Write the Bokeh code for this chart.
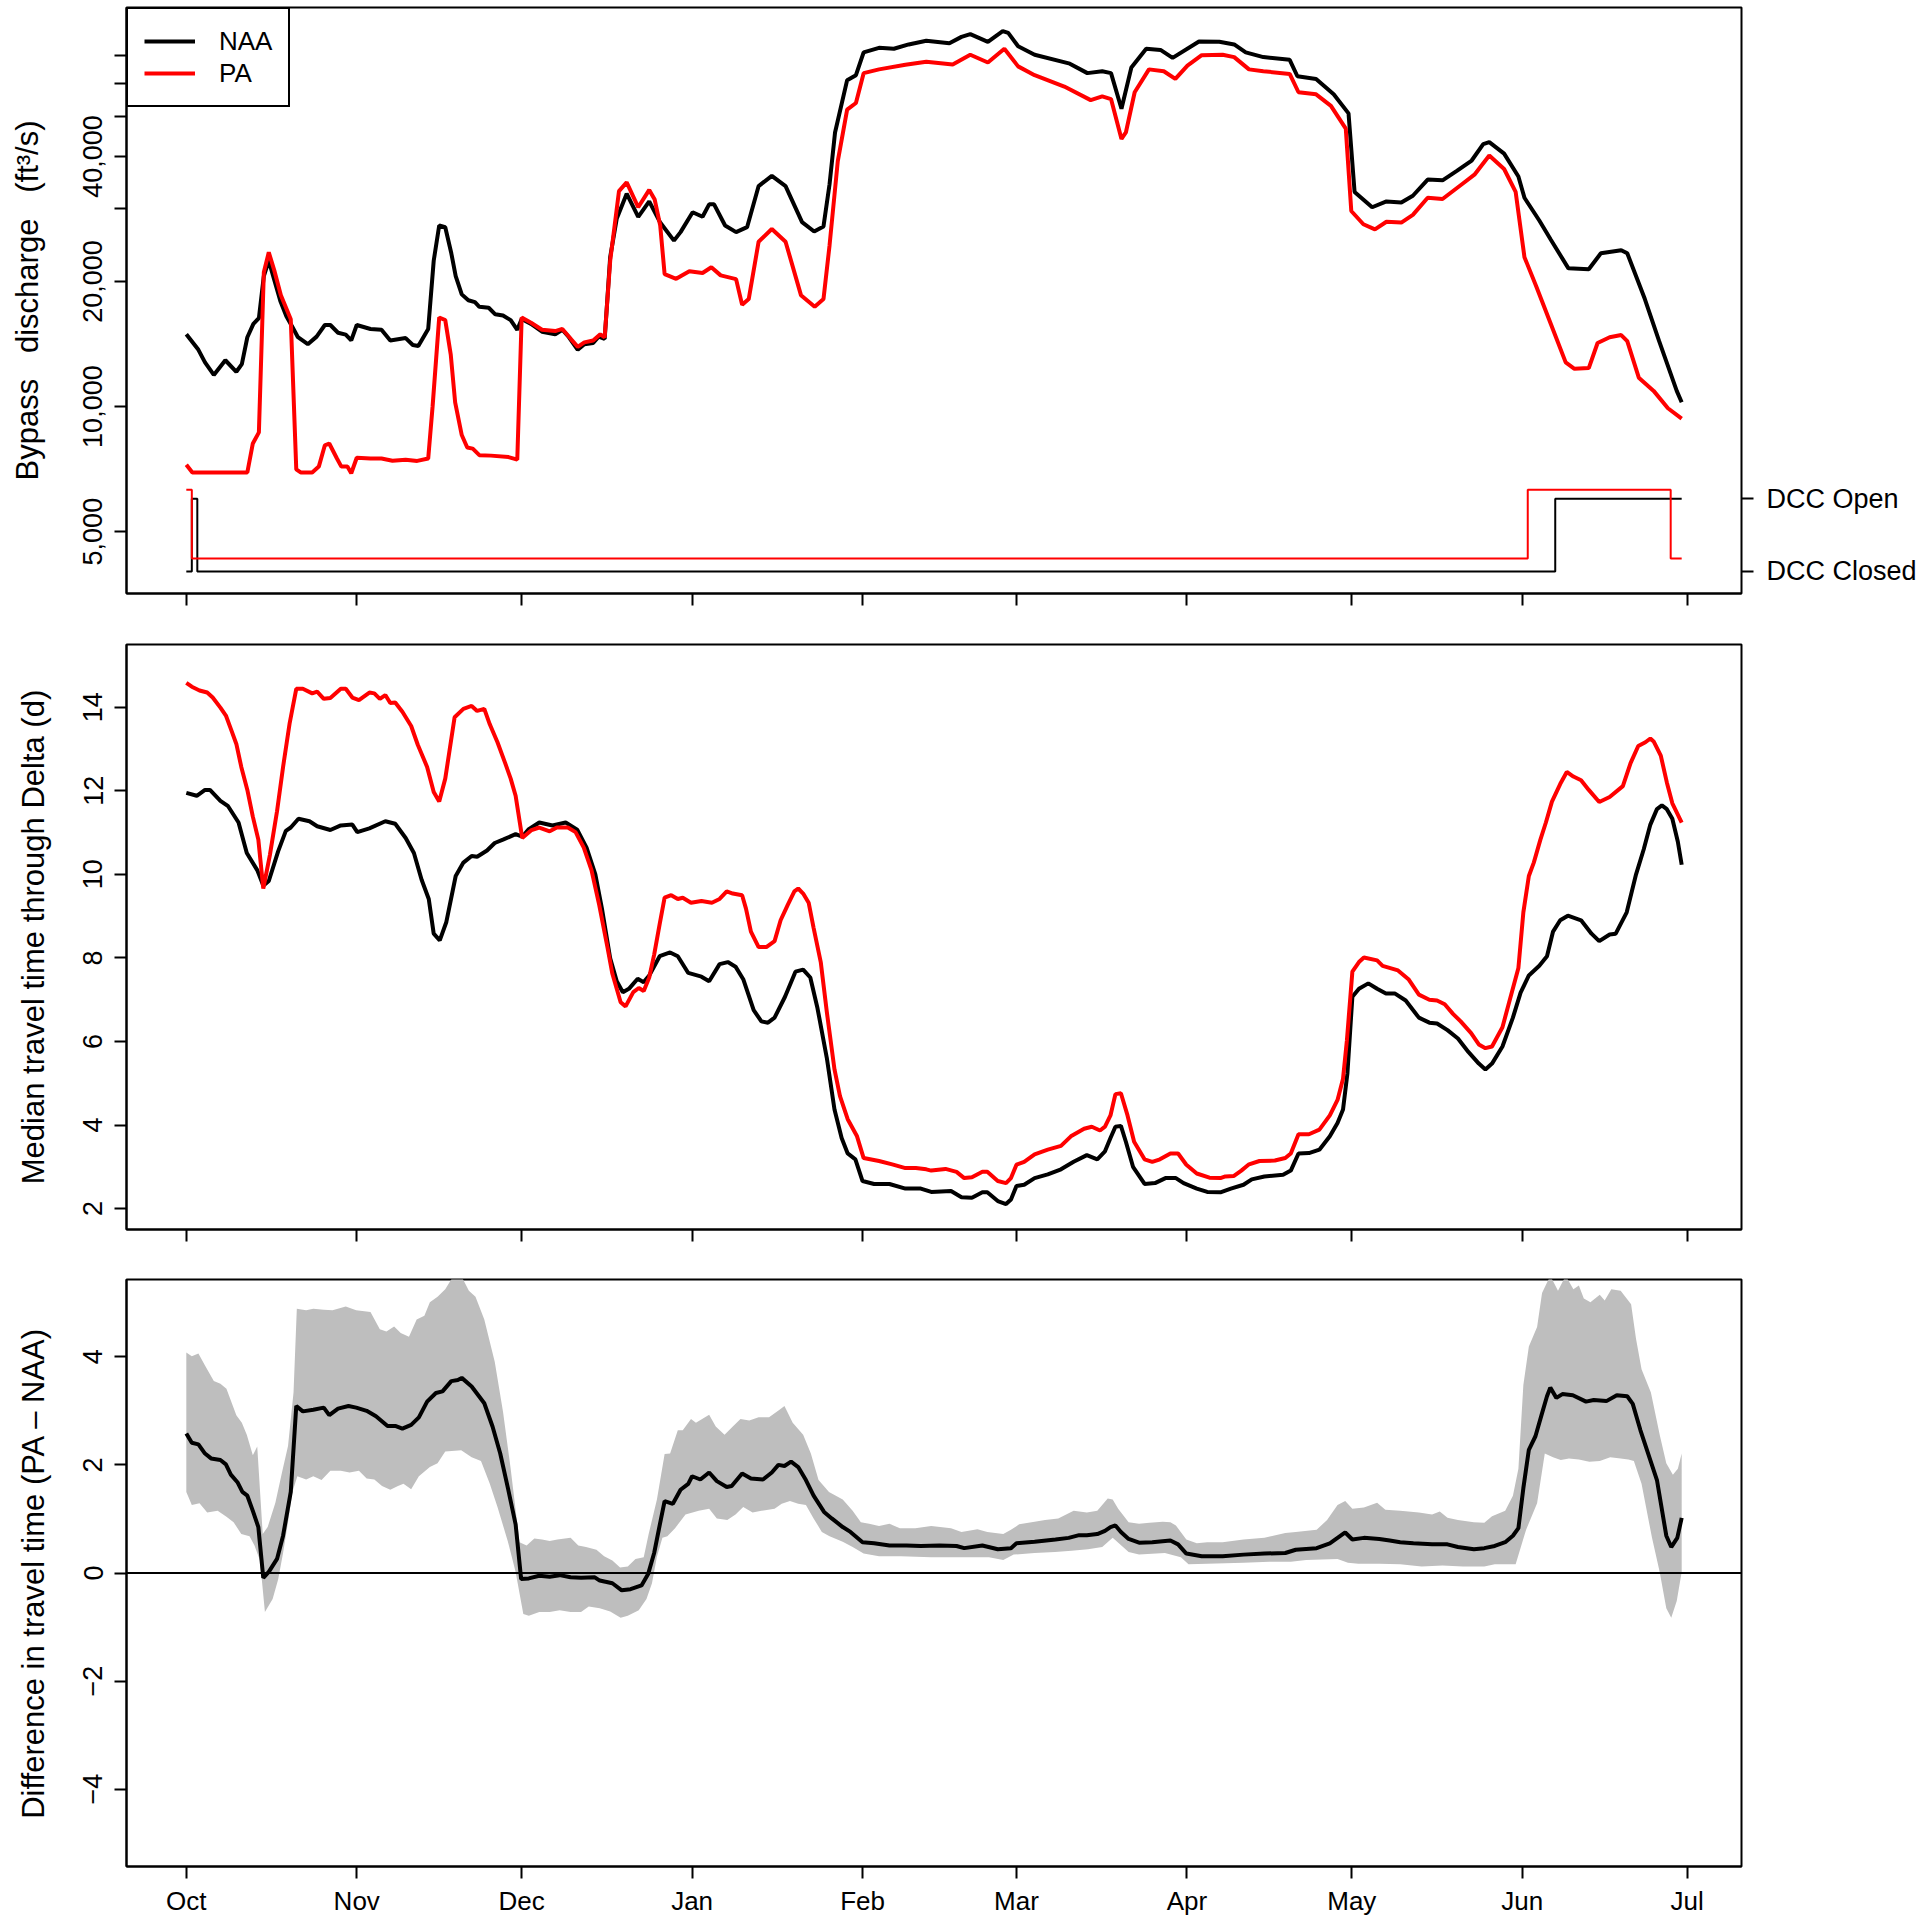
from bokeh.plotting import figure
from bokeh.layouts import column
from bokeh.models import Range1d, FixedTicker, LogAxis, Legend, LegendItem, Span
from bokeh.embed import file_html
from bokeh.resources import INLINE

# ---------------- data ----------------
month_days = [0, 31, 61, 92, 123, 151, 182, 212, 243, 273]
month_labels = ["Oct", "Nov", "Dec", "Jan", "Feb", "Mar", "Apr", "May", "Jun", "Jul"]

# Bypass discharge (ft3/s), (day since Oct 1, value)
naa_flow = [(0,14930),(2.2,13700),(3.4,12780),(5.0,11920),(7.1,12930),(9.1,12130),(10.1,12650),(11.1,14690),
 (12.2,15820),(13.2,16330),(14.1,20620),(15.0,22450),(16.0,20180),(17.1,17960),(18.2,16500),(19.2,15640),
 (20.3,14690),(22.1,14130),(23.7,14740),(25.2,15720),(26.2,15720),(27.6,15060),(29.0,14900),(30.0,14430),
 (31.0,15720),(33.5,15380),(35.5,15310),(37.1,14430),(39.9,14620),(41.2,14070),(42.2,14000),(44.0,15380),
 (45.0,22450),(46.0,27290),(47.1,27040),(48.2,23400),(49.0,20620),(50.1,18630),(51.3,18030),(52.5,17840),
 (53.3,17390),(55.0,17300),(56.2,16680),(57.6,16570),(59.0,16150),(60.2,15310),(61.0,16250),(62.7,15820),
 (64.7,15150),(67.1,14930),(68.4,15310),(69.6,14690),(71.2,13700),(72.4,14130),(74.0,14230),(75.0,14740),
 (76.1,14560),(77.1,22920),(78.3,28370),(80.1,32550),(82.2,28640),(84.2,31190),(86.2,27740),(88.7,25100),
 (89.9,26310),(92.1,29380),(93.9,28640),(95.1,30690),(96.0,30690),(98.0,27290),(100.0,26310),(102.0,27040),
 (104.1,33960),(106.5,35950),(109.0,33960),(112.0,27800),(114.2,26400),(115.9,27160),(117.0,34300),(118.0,45710),
 (120.2,61090),(121.8,62810),(123.2,71290),(126.0,73090),(128.7,72700),(131.4,74470),(134.6,76030),(138.8,75000),
 (141.0,77660),(142.6,78840),(145.8,75560),(148.5,80180),(149.5,79380),(151.3,73710),(154.3,70350),(160.7,66950),
 (163.9,63520),(166.6,64200),(168.2,63520),(170.1,52130),(171.9,65520),(174.6,72700),(177.2,72250),(179.4,69140),
 (184.2,75710),(187.9,75560),(190.6,74470),(192.7,71290),(195.9,69430),(200.7,68390),(202.1,62430),(205.5,61520),
 (208.7,56480),(211.4,50820),(212.5,32880),(215.7,30200),(218.3,31190),(221.0,31000),(223.1,32190),(225.8,35200),
 (228.5,35060),(231.1,36950),(233.8,39130),(235.9,42870),(237.0,43340),(239.7,40650),(242.3,35820),(243.4,31830),
 (246.1,28060),(248.2,25220),(251.4,21520),(255.1,21420),(257.3,23400),(261.0,23800),(262.1,23400),(265.3,18150),
 (267.9,14370),(271.1,10910),(272,10240)]

pa_flow = [(0,7240),(1.1,6940),(11.1,6940),(12.1,8150),(13.2,8670),(14.1,21060),(15.0,23520),(16.0,21280),
 (17.2,18550),(19.0,16220),(20.0,7060),(20.8,6940),(22.9,6940),(24.1,7170),(25.2,8070),(26.0,8150),(27.4,7500),
 (28.2,7170),(29.3,7170),(30.0,6910),(31.0,7530),(33.5,7500),(35.5,7500),(37.5,7410),(39.9,7450),(42.0,7400),
 (44.0,7500),(44.8,10020),(46.0,16390),(47.1,16150),(48.1,13340),(48.9,10240),(50.1,8540),(51.1,7970),(52.1,7920),
 (53.3,7640),(55.4,7620),(58.6,7560),(60.2,7450),(61.0,16390),(62.7,15920),(64.7,15310),(67.1,15200),(68.4,15380),
 (70.0,14520),(71.2,13930),(72.4,14280),(74.0,14430),(75.3,14930),(76.1,14690),(77.1,22450),(78.7,33020),
 (80.1,34670),(82.2,30200),(84.2,33240),(85.2,31510),(86.2,27290),(87.0,20840),(89.1,20310),(91.5,21190),
 (93.9,20970),(95.5,21650),(97.2,20700),(100.0,20270),(101.1,17580),(102.3,18150),(104.1,24950),(106.5,26770),
 (109.0,24950),(111.8,18550),(114.3,17390),(115.9,18150),(117.0,24440),(118.5,39000),(120.2,51880),(121.8,53830),
 (123.2,63520),(126.0,64860),(130.8,66510),(134.6,67670),(139.4,66640),(142.6,70350),(145.8,67370),(148.8,72700),
 (151.3,65950),(154.3,62810),(159.7,58960),(164.5,54700),(166.6,55870),(168.2,55000),(170.1,44090),(170.9,45710),
 (172.5,57130),(175.1,64860),(177.8,64200),(179.9,61520),(182.1,66240),(184.7,70150),(188.5,70350),(190.6,69430),
 (193.3,64860),(195.9,64200),(200.7,63250),(202.3,57130),(205.5,56480),(208.2,52990),(210.9,46690),(211.9,29580),
 (214.1,27480),(216.2,26710),(218.3,27860),(221.0,27740),(223.1,28950),(225.8,31830),(228.5,31610),(232.2,34450),
 (234.3,36170),(237.0,40230),(239.7,37330),(241.8,32880),(243.4,22900),(245.5,19550),(248.2,15810),(250.9,12780),
 (252.5,12330),(255.1,12380),(256.7,14230),(258.9,14690),(261.0,14870),(262.1,14370),(264.2,11740),(266.9,10910),
 (269.5,9910),(272,9360)]

# Delta Cross Channel status: (day the status starts, 1 = open / 0 = closed)
dcc_naa = [(0,0),(1,1),(2,0),(249,1),(272,1)]
dcc_pa = [(0,1),(1,0),(244,1),(270,0),(272,0)]
dcc_naa_levels = {0: 4010, 1: 6000}
dcc_pa_levels = {0: 4310, 1: 6310}
dcc_tick_labels = {4010: "DCC Closed", 6000: "DCC Open"}

# Median travel time through Delta (d)
naa_tt = [(0,11.95),(1.9,11.88),(3.4,12.02),(4.3,12.02),(6.2,11.76),(7.6,11.63),(9.5,11.24),(11.0,10.51),(12.9,10.10),
 (14.0,9.73),(15.0,9.84),(16.7,10.55),(18.1,11.04),(19.0,11.12),(20.4,11.33),(22.4,11.27),(23.8,11.15),(26.2,11.06),
 (28.1,11.17),(30.2,11.19),(31.1,11.01),(33.3,11.10),(36.2,11.27),(38.0,11.21),(39.9,10.87),(41.4,10.51),(42.8,9.87),
 (44.1,9.41),(45.0,8.58),(46.1,8.42),(47.3,8.86),(49.0,9.96),(50.4,10.28),(51.9,10.44),(52.9,10.42),(54.7,10.57),
 (56.1,10.75),(57.6,10.83),(59.9,10.96),(61.1,10.90),(62.3,11.08),(64.2,11.24),(66.6,11.17),(69.0,11.24),(71.1,11.07),
 (72.8,10.64),(74.4,10.0),(75.6,9.18),(77.1,7.99),(78.3,7.44),(79.4,7.18),(80.5,7.26),(82.1,7.50),(83.2,7.42),
 (84.2,7.58),(86.1,8.04),(88.0,8.13),(89.4,8.04),(91.3,7.64),(93.7,7.55),(95.1,7.44),(97.0,7.85),(98.5,7.90),
 (99.9,7.79),(101.3,7.49),(103.2,6.75),(104.6,6.48),(105.8,6.45),(107.0,6.57),(108.9,7.07),(110.8,7.67),(112.2,7.72),
 (113.5,7.53),(114.8,6.80),(116.5,5.61),(117.9,4.37),(119.2,3.69),(120.3,3.32),(121.7,3.18),(123.0,2.66),(125.1,2.59),
 (127.9,2.59),(130.8,2.48),(133.6,2.48),(135.5,2.40),(139.1,2.42),(141.0,2.27),(142.9,2.26),(144.8,2.39),(145.7,2.39),
 (147.6,2.18),(149.1,2.11),(150.0,2.22),(151.0,2.54),(152.4,2.57),(154.3,2.73),(156.7,2.82),(159.1,2.94),(161.4,3.12),
 (163.8,3.28),(165.7,3.18),(167.1,3.37),(168.1,3.69),(169.0,3.96),(170.0,3.98),(170.9,3.60),(172.2,3.0),(174.3,2.59),
 (176.2,2.61),(178.1,2.73),(180.0,2.73),(181.4,2.61),(183.8,2.48),(185.7,2.40),(188.1,2.39),(190.0,2.48),(192.3,2.57),
 (193.8,2.70),(196.1,2.77),(199.5,2.81),(200.9,2.91),(202.3,3.32),(204.2,3.33),(206.1,3.41),(208.0,3.73),(209.4,4.05),
 (210.4,4.37),(211.2,5.24),(212.1,7.07),(213.3,7.26),(215.0,7.39),(216.6,7.26),(218.2,7.15),(219.8,7.15),(221.8,6.98),
 (224.2,6.57),(226.1,6.45),(227.5,6.43),(229.4,6.27),(231.3,6.07),(233.2,5.75),(235.1,5.47),(236.3,5.33),(237.5,5.47),
 (239.4,5.88),(241.3,6.57),(242.7,7.17),(244.2,7.58),(246.1,7.81),(247.5,8.04),(248.6,8.63),(249.9,8.90),(251.3,9.01),
 (253.7,8.90),(255.6,8.58),(257.0,8.40),(258.9,8.56),(260.0,8.58),(262.0,9.09),(263.7,10.0),(265.1,10.60),(266.3,11.19),
 (267.5,11.56),(268.4,11.65),(269.3,11.56),(270.3,11.33),(271.3,10.78),(272,10.23)]

pa_tt = [(0,14.58),(1.0,14.49),(2.4,14.40),(3.8,14.35),(4.8,14.23),(6.2,13.99),(7.2,13.80),(8.1,13.48),(9.1,13.12),
 (10.0,12.57),(11.1,12.02),(12.1,11.38),(13.1,10.83),(14.0,9.66),(15.2,10.46),(16.5,11.51),(17.6,12.57),(18.8,13.62),
 (20.0,14.44),(21.2,14.44),(22.9,14.33),(23.8,14.37),(25.0,14.20),(26.2,14.22),(28.1,14.44),(29.0,14.44),(30.2,14.23),
 (31.4,14.17),(33.3,14.35),(34.2,14.33),(35.2,14.20),(36.2,14.29),(37.1,14.10),(38.0,14.11),(39.3,13.89),(40.9,13.55),
 (42.1,13.10),(43.8,12.57),(45.0,11.97),(46.0,11.74),(47.1,12.29),(48.8,13.76),(50.4,13.96),(51.9,14.03),(52.9,13.91),
 (54.2,13.96),(55.2,13.59),(56.6,13.16),(58.0,12.66),(59.0,12.29),(59.9,11.88),(61.1,10.87),(62.8,11.06),(64.2,11.12),
 (66.1,11.03),(67.4,11.12),(69.4,11.12),(70.8,11.01),(72.3,10.64),(73.7,10.10),(75.1,9.27),(76.6,8.26),(77.5,7.62),
 (79.0,6.94),(79.9,6.84),(81.3,7.18),(82.3,7.28),(83.2,7.21),(84.2,7.53),(85.1,8.08),(86.1,8.81),(87.0,9.44),
 (88.2,9.50),(89.4,9.41),(90.3,9.44),(91.8,9.32),(93.7,9.36),(95.6,9.32),(97.0,9.41),(98.3,9.59),(99.4,9.54),
 (101.1,9.50),(101.8,9.18),(102.7,8.63),(104.1,8.26),(105.5,8.26),(107.0,8.40),(108.1,8.90),(109.4,9.27),(110.6,9.59),
 (111.3,9.66),(112.2,9.54),(113.2,9.32),(114.1,8.72),(115.4,7.90),(116.5,6.71),(117.9,5.33),(118.9,4.69),(120.3,4.14),
 (122.0,3.73),(123.2,3.21),(126.0,3.14),(128.4,3.06),(130.8,2.97),(132.7,2.97),(134.6,2.94),(135.5,2.91),(138.1,2.95),
 (140.1,2.88),(141.5,2.73),(142.9,2.75),(144.8,2.88),(145.7,2.88),(147.6,2.66),(149.1,2.61),(150.0,2.73),(151.0,3.05),
 (152.4,3.12),(154.3,3.30),(156.7,3.41),(159.1,3.50),(160.9,3.73),(163.3,3.91),(164.7,3.96),(166.2,3.87),(167.1,3.96),
 (168.1,4.23),(169.0,4.74),(170.0,4.76),(171.2,4.23),(172.4,3.60),(174.3,3.18),(175.7,3.12),(177.1,3.18),(179.0,3.32),
 (180.4,3.32),(181.9,3.05),(183.8,2.84),(186.1,2.74),(188.1,2.73),(189.0,2.77),(190.5,2.78),(191.9,2.91),(193.3,3.06),
 (195.2,3.14),(198.0,3.15),(199.9,3.21),(200.9,3.32),(202.3,3.78),(204.2,3.78),(206.1,3.89),(208.0,4.23),(209.4,4.60),
 (210.4,5.11),(211.1,6.02),(212.1,7.67),(213.3,7.90),(214.2,8.01),(216.6,7.94),(217.6,7.81),(220.4,7.70),(222.3,7.49),
 (224.2,7.12),(226.1,7.00),(227.5,6.98),(228.9,6.89),(230.4,6.66),(231.8,6.48),(233.7,6.20),(235.1,5.93),(236.3,5.84),
 (237.5,5.88),(239.4,6.34),(240.8,7.03),(242.3,7.76),(243.2,9.09),(244.2,9.96),(245.1,10.28),(246.3,10.83),(247.3,11.24),
 (248.4,11.74),(249.9,12.16),(251.1,12.45),(252.3,12.34),(253.7,12.25),(255.1,12.02),(257.0,11.73),(258.9,11.85),
 (261.3,12.11),(262.7,12.66),(264.1,13.07),(265.4,13.16),(266.3,13.25),(266.9,13.18),(268.2,12.84),(269.3,12.20),
 (270.3,11.70),(272,11.24)]

# Difference in travel time (PA - NAA): mean and uncertainty band
diff_mean = [(0,2.58),(1.0,2.41),(2.2,2.38),(3.4,2.21),(4.5,2.12),(6.2,2.09),(7.2,2.01),(8.1,1.82),(9.3,1.68),(10.2,1.50),
 (11.1,1.43),(12.1,1.15),(13.1,0.85),(14.0,-0.09),(15.0,0.02),(16.5,0.26),(17.6,0.69),(19.0,1.50),(20.0,3.09),(21.2,2.99),
 (23.1,3.02),(25.0,3.06),(26.0,2.92),(27.6,3.04),(29.5,3.09),(30.9,3.06),(32.8,3.0),(34.5,2.90),(36.6,2.72),(38.0,2.72),
 (39.3,2.67),(40.9,2.74),(42.3,2.88),(43.8,3.17),(45.4,3.33),(46.6,3.36),(48.2,3.55),(49.4,3.57),(50.1,3.61),(51.9,3.45),
 (54.2,3.14),(55.7,2.71),(57.1,2.21),(58.5,1.57),(59.9,0.90),(60.9,-0.11),(62.3,-0.10),(64.2,-0.05),(66.1,-0.07),
 (67.9,-0.04),(69.9,-0.08),(71.8,-0.09),(74.3,-0.08),(75.2,-0.14),(77.5,-0.19),(79.2,-0.32),(80.8,-0.30),(82.8,-0.23),
 (84.0,-0.02),(85.1,0.37),(86.1,0.88),(87.0,1.33),(88.5,1.28),(89.9,1.54),(91.3,1.65),(92.0,1.79),(93.5,1.73),(95.1,1.86),
 (96.5,1.70),(98.3,1.59),(99.2,1.61),(101.1,1.84),(102.7,1.75),(104.9,1.73),(106.5,1.86),(107.7,2.0),(108.8,1.98),
 (110.0,2.06),(111.3,1.96),(112.7,1.72),(114.1,1.43),(116.0,1.13),(117.4,1.01),(119.4,0.85),(120.8,0.76),(123.0,0.57),
 (125.1,0.55),(127.9,0.51),(131.0,0.51),(133.6,0.50),(137.0,0.51),(140.1,0.50),(141.5,0.46),(144.8,0.51),(147.6,0.44),
 (150.0,0.46),(151.0,0.55),(154.3,0.58),(158.1,0.62),(160.5,0.65),(162.4,0.70),(163.8,0.70),(165.7,0.72),(167.1,0.78),
 (168.1,0.85),(169.0,0.88),(170.0,0.76),(171.4,0.63),(173.3,0.56),(175.7,0.57),(179.0,0.60),(180.4,0.53),(181.9,0.36),
 (184.7,0.31),(188.5,0.31),(192.3,0.34),(196.1,0.36),(199.9,0.37),(201.8,0.43),(205.6,0.46),(208.0,0.55),(209.4,0.65),
 (210.8,0.75),(212.1,0.62),(214.2,0.65),(217.0,0.63),(218.9,0.60),(220.8,0.57),(223.2,0.55),(226.6,0.53),(229.4,0.53),
 (231.3,0.48),(234.2,0.44),(236.1,0.46),(238.0,0.50),(239.9,0.57),(241.3,0.69),(242.3,0.83),(243.2,1.57),(244.2,2.28),
 (245.4,2.53),(246.5,2.92),(247.5,3.27),(248.1,3.43),(249.2,3.24),(250.3,3.31),(252.2,3.29),(254.6,3.17),(256.0,3.20),
 (258.3,3.18),(260.2,3.29),(262.1,3.27),(263.1,3.13),(264.5,2.64),(267.5,1.72),(269.2,0.69),(270.1,0.48),(271.2,0.65),
 (272,1.02)]

diff_upper = [(0,4.08),(1,4.01),(2.2,4.06),(3.4,3.84),(5,3.55),(6.2,3.50),(7.3,3.41),(9.1,2.92),(10.1,2.78),(11,2.56),
 (12.1,2.18),(12.9,2.34),(13.9,0.72),(14.8,0.85),(16.2,1.30),(17.4,1.86),(18.5,2.35),(19.5,3.34),(20.1,4.89),(21.8,4.86),
 (23.1,4.89),(25,4.87),(26.6,4.86),(29,4.93),(30.9,4.86),(33.5,4.83),(35.2,4.51),(36.4,4.47),(37.8,4.56),(39,4.44),
 (40.5,4.37),(41.9,4.69),(43.3,4.76),(44.3,5.01),(45.7,5.11),(47.1,5.25),(48.6,5.5),(50.0,5.5),(51.4,5.22),(52.6,5.11),
 (54.2,4.69),(56.1,3.91),(57.6,2.99),(59,1.93),(60.6,0.57),(61.9,0.51),(63.3,0.64),(64.7,0.62),(66.1,0.59),(67.5,0.62),
 (69.9,0.65),(71.3,0.51),(72.7,0.48),(74.6,0.43),(76,0.31),(77.5,0.23),(78.9,0.10),(80.3,0.12),(81.7,0.26),(83.2,0.29),
 (84.1,0.72),(85.6,1.36),(87.0,2.20),(88,2.21),(89.4,2.64),(90.3,2.64),(91.8,2.85),(92.7,2.78),(95.1,2.93),(96.3,2.71),
 (97.9,2.56),(99.4,2.71),(100.8,2.85),(102.4,2.82),(104.1,2.88),(106,2.88),(107.9,3.02),(108.8,3.09),(110.3,2.78),
 (112.2,2.56),(113.6,2.21),(115,1.72),(116.9,1.50),(119.4,1.36),(121.2,1.15),(122.7,0.94),(124.2,0.91),(126,0.87),
 (127.9,0.91),(129.8,0.83),(132.6,0.83),(135.5,0.87),(139.1,0.83),(141,0.76),(143.9,0.81),(145.7,0.76),(148.6,0.72),
 (150,0.80),(151.5,0.90),(154.3,0.95),(156.2,0.98),(158.6,1.01),(161.4,1.15),(163.8,1.12),(165.7,1.15),(167.6,1.38),
 (168.5,1.36),(169.5,1.19),(171.4,0.94),(173.3,0.91),(175.2,0.93),(177.6,0.95),(179,0.94),(180,0.88),(181.9,0.62),
 (183.8,0.55),(185.7,0.57),(188.5,0.57),(192.3,0.62),(196.1,0.65),(199.9,0.74),(201.8,0.76),(205.6,0.80),(207.5,0.98),
 (209.4,1.26),(210.8,1.33),(212.1,1.19),(214.2,1.21),(216.6,1.30),(218.1,1.17),(220.8,1.15),(224.2,1.12),(226.6,1.08),
 (228,1.14),(229.4,1.02),(231.3,0.98),(234.2,0.94),(236.1,0.93),(237.5,1.05),(239.9,1.15),(241.3,1.43),(242.3,1.93),
 (243.2,3.48),(244.2,4.19),(245.7,4.55),(246.6,5.18),(248.1,5.5),(249.5,5.22),(250.9,5.5),(252.3,5.25),(253.3,5.32),
 (254.2,5.08),(255.4,5.01),(257.1,5.15),(258,5.04),(259.2,5.25),(260.9,5.22),(262.8,4.97),(263.7,4.33),(264.7,3.77),
 (266.4,3.34),(268,2.56),(269.2,2.03),(270.4,1.82),(271.3,1.93),(272,2.21)]

diff_lower = [(0,1.50),(1,1.26),(2.4,1.29),(3.8,1.12),(5.7,1.15),(7.3,1.04),(8.6,0.94),(10,0.72),(11.5,0.68),(12.4,0.51),
 (13.4,0.23),(14.3,-0.72),(15.7,-0.48),(16.7,-0.12),(17.6,0.37),(18.5,0.94),(19.3,1.50),(20.2,1.79),(21.8,1.73),(23.1,1.79),
 (24.6,1.72),(26.2,1.89),(28.1,1.89),(29.7,1.86),(31.4,1.89),(32.8,1.75),(34.2,1.73),(35.6,1.61),(37.1,1.54),(38.5,1.61),
 (39.5,1.65),(40.9,1.55),(42.3,1.79),(44.3,1.96),(45.7,2.03),(47.1,2.25),(50,2.27),(51.9,2.14),(53.6,2.07),(55.2,1.65),
 (56.6,1.22),(58.5,0.58),(59.9,0.02),(61.3,-0.76),(62.3,-0.79),(64.2,-0.72),(66.1,-0.72),(67.9,-0.69),(69.9,-0.72),
 (71.8,-0.72),(73.2,-0.62),(75.2,-0.65),(77.1,-0.71),(79,-0.83),(80.3,-0.79),(82.3,-0.69),(83.7,-0.48),(84.7,-0.19),
 (85.6,0.30),(86.6,0.65),(87.5,0.68),(88.9,0.83),(90.8,1.08),(93.2,1.15),(95.1,1.19),(96.5,1.01),(98.4,0.98),(99.9,1.08),
 (101.3,1.22),(103,1.12),(104.6,1.15),(107,1.19),(108.3,1.28),(109.8,1.33),(111.3,1.28),(112.7,1.26),(114.1,1.01),
 (115.6,0.76),(117,0.68),(119.4,0.58),(121.2,0.48),(123.2,0.36),(126,0.31),(130,0.31),(135.5,0.29),(141,0.29),(146,0.29),
 (148.6,0.24),(150.5,0.34),(154.3,0.37),(158,0.39),(161,0.41),(164,0.44),(166.6,0.48),(168.5,0.65),(171.4,0.39),
 (173.3,0.34),(178,0.37),(180.9,0.29),(182.3,0.16),(185.7,0.17),(192.3,0.19),(197,0.21),(200.9,0.21),(203.7,0.24),
 (209.4,0.26),(211.3,0.19),(213.2,0.17),(217,0.17),(220.8,0.16),(224.7,0.12),(228.5,0.14),(232.2,0.12),(236.1,0.12),
 (238,0.16),(240.4,0.16),(241.8,0.16),(243.7,0.80),(245.7,1.29),(247.1,2.21),(248.6,2.14),(250,2.09),(251.5,2.12),
 (253.3,2.10),(255.2,2.06),(257.1,2.07),(259,2.14),(260.9,2.12),(262.3,2.10),(263.3,2.07),(264.7,1.65),(266.6,0.65),
 (268,0.02),(269.2,-0.65),(270.1,-0.83),(271.1,-0.52),(272,0.02)]

# ---------------- helpers ----------------
FONT = "Liberation Sans"
LW = 4


def xs(pairs):
    return [a for a, _ in pairs]


def ys(pairs):
    return [b for _, b in pairs]


def base_figure(y_range, y_type="linear", top=10, fh=585):
    p = figure(frame_width=1615, frame_height=fh, x_range=Range1d(-10.88, 282.88), y_range=y_range,
               y_axis_type=y_type, output_backend="svg", toolbar_location=None,
               min_border_left=126, min_border_right=20, min_border_top=top, min_border_bottom=40)
    p.outline_line_color = "black"
    p.outline_line_width = 2
    p.outline_line_alpha = 1.0
    p.xgrid.visible = False
    p.ygrid.visible = False
    p.background_fill_color = "white"
    return p


def style_axis(ax):
    ax.major_tick_out = 12
    ax.major_tick_in = 0
    ax.minor_tick_out = 0
    ax.minor_tick_in = 0
    ax.axis_line_width = 2
    ax.major_tick_line_width = 2
    ax.major_label_text_font = FONT
    ax.major_label_text_font_size = "27px"
    ax.major_label_text_color = "black"
    ax.axis_label_text_font = FONT
    ax.axis_label_text_font_size = "31px"
    ax.axis_label_text_font_style = "normal"
    ax.axis_label_text_color = "black"


def style_x(p, labels):
    ax = p.xaxis[0]
    style_axis(ax)
    ax.ticker = FixedTicker(ticks=month_days)
    ax.major_label_overrides = {d: (lab if labels else "") for d, lab in zip(month_days, month_labels)}
    if labels:
        ax.major_label_text_font_size = "26px"
        ax.major_label_standoff = 7
    else:
        ax.major_label_text_font_size = "0px"
        ax.major_label_standoff = 0


def style_y(p, ticks, labels, title, title_standoff=30):
    ax = p.yaxis[0]
    style_axis(ax)
    ax.ticker = FixedTicker(ticks=ticks)
    ax.major_label_overrides = dict(zip(ticks, labels))
    ax.major_label_orientation = "vertical"
    ax.major_label_standoff = 12
    ax.axis_label = title
    ax.axis_label_standoff = title_standoff


# ---------------- panel 1: bypass discharge ----------------
p1 = base_figure(Range1d(3548, 91400), "log", top=7, fh=586)
p1.min_border_right = 176
flow_ticks = [5000, 10000, 20000, 30000, 40000, 50000, 60000, 70000]
flow_labels = ["5,000", "10,000", "20,000", "", "40,000", "", "", ""]
style_x(p1, False)
style_y(p1, flow_ticks, flow_labels, "Bypass\u2002\u2004discharge\u2002\u2004(ft\u00b3/s)", title_standoff=36)

r_naa = p1.line(xs(naa_flow), ys(naa_flow), line_color="black", line_width=LW)
r_pa = p1.line(xs(pa_flow), ys(pa_flow), line_color="#ff0000", line_width=LW)
p1.step(xs(dcc_naa), [dcc_naa_levels[s] for s in ys(dcc_naa)], mode="after", line_color="black", line_width=2)
p1.step(xs(dcc_pa), [dcc_pa_levels[s] for s in ys(dcc_pa)], mode="after", line_color="#ff0000", line_width=2)

rax = LogAxis(ticker=FixedTicker(ticks=list(dcc_tick_labels.keys())),
              major_label_overrides=dcc_tick_labels)
style_axis(rax)
rax.major_label_text_font_size = "27px"
rax.major_label_standoff = 13
rax.axis_line_color = None
p1.add_layout(rax, "right")

legend = Legend(items=[LegendItem(label="NAA", renderers=[r_naa]), LegendItem(label="PA", renderers=[r_pa])],
                location="top_left", margin=0, padding=16, spacing=0, glyph_width=51, glyph_height=32,
                label_height=32, label_standoff=24, label_text_font=FONT, label_text_font_size="26px",
                label_text_color="black",
                border_line_color="black", border_line_width=2, border_line_alpha=1.0,
                background_fill_color="white", background_fill_alpha=1.0)
p1.add_layout(legend)

# ---------------- panel 2: median travel time ----------------
p2 = base_figure(Range1d(1.5, 15.5), top=11, fh=585)
style_x(p2, False)
tt_ticks = [2, 4, 6, 8, 10, 12, 14]
style_y(p2, tt_ticks, [str(t) for t in tt_ticks], "Median travel time through Delta (d)")
p2.line(xs(naa_tt), ys(naa_tt), line_color="black", line_width=LW)
p2.line(xs(pa_tt), ys(pa_tt), line_color="#ff0000", line_width=LW)

# ---------------- panel 3: difference ----------------
p3 = base_figure(Range1d(-5.43, 5.43), top=10, fh=587)
p3.min_border_bottom = 50
style_x(p3, True)
d_ticks = [-4, -2, 0, 2, 4]
style_y(p3, d_ticks, ["\u22124", "\u22122", "0", "2", "4"], "Difference in travel time (PA \u2013 NAA)")
band_x = xs(diff_upper) + xs(diff_lower)[::-1]
band_y = ys(diff_upper) + ys(diff_lower)[::-1]
p3.patch(band_x, band_y, fill_color="#bebebe", line_color=None)
p3.add_layout(Span(location=0, dimension="width", line_color="black", line_width=2))
p3.line(xs(diff_mean), ys(diff_mean), line_color="black", line_width=LW)

layout = column(p1, p2, p3, spacing=0)
open("out.html", "w").write(file_html(layout, INLINE))
